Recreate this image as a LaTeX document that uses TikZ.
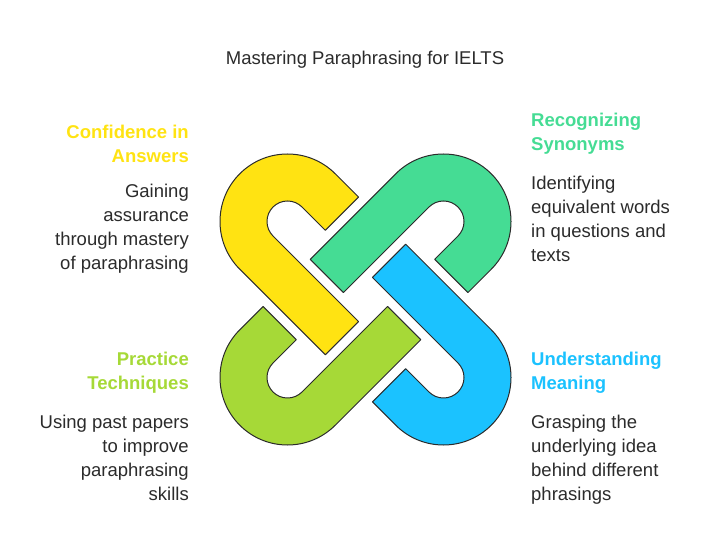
\documentclass[tikz,border=0pt]{standalone}
\usepackage{fontspec}
\setmainfont{Liberation Sans}
\usetikzlibrary{positioning}
\definecolor{cYel}{HTML}{FFE312}
\definecolor{cGrn}{HTML}{45DC94}
\definecolor{cBlu}{HTML}{1BC2FF}
\definecolor{cLim}{HTML}{A6D937}
\definecolor{cTxt}{HTML}{2B2B2B}
\tikzset{
  hook/.style={draw=cTxt, line width=1pt, line join=round},
  head/.style={font=\fontsize{18.5}{24}\selectfont\bfseries, inner sep=0pt},
  body/.style={font=\fontsize{18.5}{24}\selectfont, text=cTxt, inner sep=0pt}
}
\newcommand\hookshape{%
  (33,67.5) -- (0,67.5) arc[start angle=90, end angle=270, radius=67.5]
  -- (121,-67.5) -- (121,-20.5) -- (0,-20.5)
  arc[start angle=270, end angle=90, radius=20.5] -- (33,20.5) -- cycle}

\begin{document}
\begin{tikzpicture}[x=1pt, y=1pt]
  \useasboundingbox (0,0) rectangle (720,552);

  \node[body] (title) at (365,492) {Mastering Paraphrasing for IELTS};

  % four interlocking hooks
  \foreach \k/\col in {0/cYel, 1/cGrn, 2/cBlu, 3/cLim}{
    \begin{scope}[shift={(365.5,252.5)}, rotate=-90*\k]
      \begin{scope}[shift={(-78,78)}, rotate=-45]
        \draw[hook, fill=\col] \hookshape;
      \end{scope}
    \end{scope}
  }

  \node[head, text=cYel, anchor=north east, align=right] (confH) at (189,427) {Confidence in\\Answers};
  \node[body, align=right, below=21pt of confH.south east, anchor=north east] (confB) {Gaining\\assurance\\through mastery\\of paraphrasing};

  \node[head, text=cGrn, anchor=north west, align=left] (synH) at (531,439) {Recognizing\\Synonyms};
  \node[body, align=left, below=21pt of synH.south west, anchor=north west] (synB) {Identifying\\equivalent words\\in questions and\\texts};

  \node[head, text=cLim, anchor=north east, align=right] (pracH) at (189,200) {Practice\\Techniques};
  \node[body, align=right, below=21pt of pracH.south east, anchor=north east] (pracB) {Using past papers\\to improve\\paraphrasing\\skills};

  \node[head, text=cBlu, anchor=north west, align=left] (undH) at (531,200) {Understanding\\Meaning};
  \node[body, align=left, below=21pt of undH.south west, anchor=north west] (undB) {Grasping the\\underlying idea\\behind different\\phrasings};
\end{tikzpicture}
\end{document}
